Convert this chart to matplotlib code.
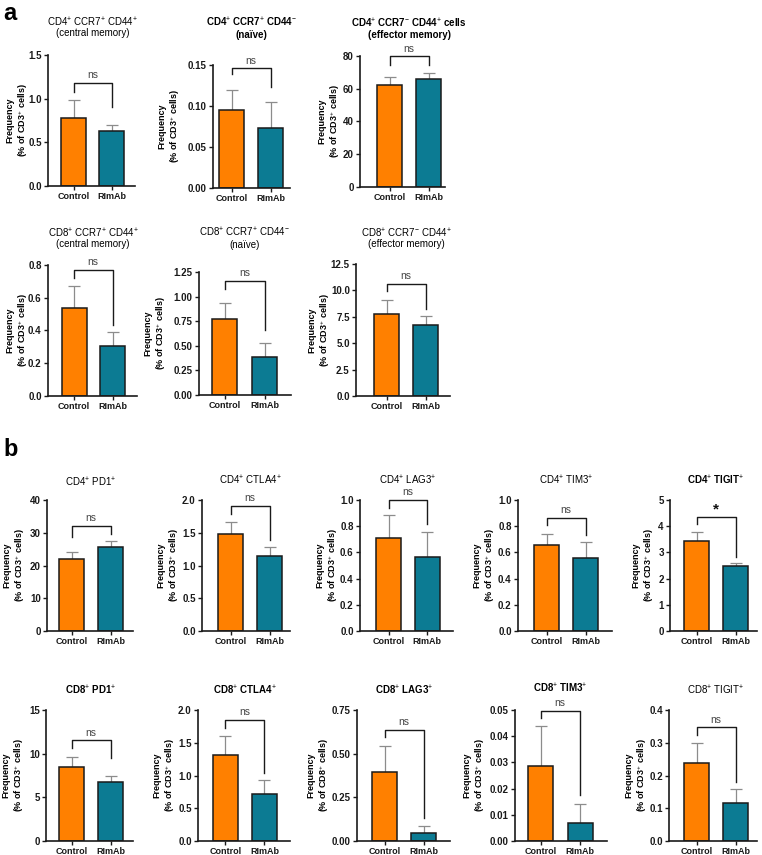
import matplotlib
matplotlib.use('Agg')
import matplotlib.pyplot as plt
import matplotlib.transforms as mtransforms

plt.rcParams['font.family'] = ['Liberation Sans', 'DejaVu Sans']
plt.rcParams['mathtext.fontset'] = 'custom'
plt.rcParams['mathtext.rm'] = 'Liberation Sans'
plt.rcParams['mathtext.it'] = 'Liberation Sans:italic'
plt.rcParams['mathtext.bf'] = 'Liberation Sans:bold'

groups = ['Control', 'RImAb']

titles = [
    'CD4$^{+}$ CCR7$^{+}$ CD44$^{+}$\n(central memory)',
    'CD4$^{+}$ CCR7$^{+}$ CD44$^{-}$\n(naïve)',
    'CD4$^{+}$ CCR7$^{-}$ CD44$^{+}$ cells\n(effector memory)',
    'CD8$^{+}$ CCR7$^{+}$ CD44$^{+}$\n(central memory)',
    'CD8$^{+}$ CCR7$^{+}$ CD44$^{-}$\n(naïve)',
    'CD8$^{+}$ CCR7$^{-}$ CD44$^{+}$\n(effector memory)',
    'CD4$^{+}$ PD1$^{+}$',
    'CD4$^{+}$ CTLA4$^{+}$',
    'CD4$^{+}$ LAG3$^{+}$',
    'CD4$^{+}$ TIM3$^{+}$',
    'CD4$^{+}$ TIGIT$^{+}$',
    'CD8$^{+}$ PD1$^{+}$',
    'CD8$^{+}$ CTLA4$^{+}$',
    'CD8$^{+}$ LAG3$^{+}$',
    'CD8$^{+}$ TIM3$^{+}$',
    'CD8$^{+}$ TIGIT$^{+}$',
]
title_bold = [False, True, True, False, False, False,
              False, False, False, False, True,
              True, True, True, True, False]
ylabel_cells = ['CD3'] * 13 + ['CD8', 'CD3', 'CD3']

ctrl_mean = [0.78, 0.095, 62.3, 0.54, 0.77, 7.8,
             22.1, 1.48, 0.712, 0.656, 3.45,
             8.47, 1.313, 0.393, 0.0286, 0.237]
ctrl_err = [0.21, 0.024, 5.1, 0.13, 0.16, 1.3,
            2.0, 0.19, 0.17, 0.087, 0.32,
            1.19, 0.295, 0.151, 0.0152, 0.063]
rimab_mean = [0.63, 0.073, 66.2, 0.305, 0.39, 6.75,
              25.75, 1.145, 0.567, 0.555, 2.49,
              6.76, 0.718, 0.048, 0.007, 0.115]
rimab_err = [0.07, 0.032, 3.7, 0.083, 0.14, 0.8,
             1.85, 0.145, 0.186, 0.122, 0.12,
             0.64, 0.208, 0.04, 0.0072, 0.044]

y_max = [1.5, 0.15, 80, 0.8, 1.25, 12.5,
         40, 2.0, 1.0, 1.0, 5,
         15, 2.0, 0.75, 0.05, 0.4]
y_step = [0.5, 0.05, 20, 0.2, 0.25, 2.5,
          10, 0.5, 0.2, 0.2, 1,
          5, 0.5, 0.25, 0.01, 0.1]
y_dec = [1, 2, 0, 1, 2, 1,
         0, 1, 1, 1, 0,
         0, 1, 2, 2, 1]

sig = ['ns'] * 10 + ['*'] + ['ns'] * 5

# bracket geometry (bar y, left leg end, right leg end) in data units
bracket_y = [1.18, 0.146, 79.8, 0.77, 1.16, 10.63,
             32.2, 1.91, 1.0, 0.865, 4.36,
             11.53, 1.847, 0.636, 0.0497, 0.347]
leg_left = [1.08, 0.139, 74.6, 0.718, 1.08, 9.91,
            28.6, 1.79, 0.94, 0.81, 4.08,
            10.69, 1.73, 0.594, 0.0468, 0.324]
leg_right = [0.90, 0.123, 74.6, 0.433, 0.66, 8.26,
             29.5, 1.39, 0.817, 0.733, 2.84,
             9.47, 1.033, 0.134, 0.0176, 0.181]

# layout in pixels: (axis left, axis right, top, bottom, bar1 centre, bar2 centre,
#                    title line y's, y-label centre offset from axis)
layout = [
    (48, 135, 55, 186, 73.5, 111.5, (22, 33), 30.5),
    (213, 290, 65, 188, 231.5, 270.5, (22, 35), 43),
    (360, 445, 56, 187, 389.5, 428.5, (23, 35), 30),
    (48, 137, 265, 396, 74, 112.5, (233, 244), 30.5),
    (199, 291, 272, 395, 224.5, 264.5, (232, 245), 43),
    (356, 450, 264, 396, 386.5, 425.5, (233, 244), 36),
    (47, 133, 500, 631, 71.5, 110.5, (482,), 32),
    (202, 290, 500, 631, 230.5, 269.5, (480,), 33),
    (360, 453, 500, 631, 388.5, 427, (480,), 32),
    (518, 612, 500, 631, 546.5, 585.5, (480,), 33),
    (670, 757, 500, 631, 696.5, 735.5, (480,), 26),
    (46, 133, 710, 841, 71.5, 110.5, (690,), 32),
    (198, 290, 710, 841, 225.5, 264.5, (690,), 33),
    (357, 450, 710, 841, 384.5, 423.5, (690,), 38.5),
    (515, 607, 710, 841, 540.5, 580, (688,), 40),
    (669, 757, 710, 841, 696.5, 735.5, (690,), 32.5),
]

W, H = 762, 855
fig = plt.figure(figsize=(W / 100, H / 100), dpi=100)

col_ctrl = '#FF8000'
col_rim = '#0C7B93'

for i in range(16):
    L, R, T, B, c1, c2, ty, yoff = layout[i]
    ax = fig.add_axes([L / W, 1 - B / H, (R - L) / W, (B - T) / H])
    sep = c2 - c1
    ax.set_xlim(-(c1 - L) / sep, 1 + (R - c2) / sep)
    ax.set_ylim(0, y_max[i])
    bw = 25 / sep
    x = [0, 1]
    ax.errorbar(x, [ctrl_mean[i], rimab_mean[i]],
                yerr=[[0, 0], [ctrl_err[i], rimab_err[i]]],
                fmt='none', ecolor='#8c8c8c', elinewidth=0.9,
                capsize=4.5, capthick=0.9, zorder=1)
    ax.bar(x, [ctrl_mean[i], rimab_mean[i]], width=bw,
           color=[col_ctrl, col_rim], edgecolor='#1a1a1a', linewidth=1.1, zorder=2)
    ax.plot([0, 0, 1, 1], [leg_left[i], bracket_y[i], bracket_y[i], leg_right[i]],
            color='#1a1a1a', lw=1.0, clip_on=False, zorder=3)
    if sig[i] == '*':
        ax.annotate('*', (0.5, bracket_y[i]), xytext=(0, 0.5), textcoords='offset points',
                    ha='center', va='bottom', fontsize=11, fontweight='bold', color='#111111')
    else:
        ax.annotate('ns', (0.5, bracket_y[i]), xytext=(0, 2), textcoords='offset points',
                    ha='center', va='bottom', fontsize=7.5, color='#444444')
    n = int(round(y_max[i] / y_step[i]))
    ticks = [k * y_step[i] for k in range(n + 1)]
    ax.set_yticks(ticks)
    ax.set_yticklabels([f'{t:.{y_dec[i]}f}' for t in ticks], fontweight='bold', fontsize=7)
    ax.set_xticks(x)
    ax.set_xticklabels(groups, fontweight='bold', fontsize=6.5)
    ax.tick_params(direction='out', length=3, width=1, pad=1.5, colors='#1a1a1a')
    for s in ['top', 'right']:
        ax.spines[s].set_visible(False)
    for s in ['left', 'bottom']:
        ax.spines[s].set_linewidth(1.2)
        ax.spines[s].set_color('#1a1a1a')
    ax.set_ylabel('Frequency\n(% of ' + ylabel_cells[i] + '$^{+}$ cells)',
                  fontsize=6.5, fontweight='bold', linespacing=1.2, va='center')
    ax.yaxis.set_label_coords(-yoff / (R - L), 0.5)
    trans = mtransforms.blended_transform_factory(ax.transData, fig.transFigure)
    lines = titles[i].split('\n')
    for line, yp in zip(lines, ty):
        ax.text(0.5, 1 - yp / H, line, transform=trans, ha='center', va='center',
                fontsize=7, fontweight='bold' if title_bold[i] else 'normal')

fig.text(3 / W, 1 - 14 / H, 'a', fontsize=17, fontweight='bold', va='center', ha='left')
fig.text(3 / W, 1 - 449 / H, 'b', fontsize=17, fontweight='bold', va='center', ha='left')

fig.savefig('out.png', dpi=100)
